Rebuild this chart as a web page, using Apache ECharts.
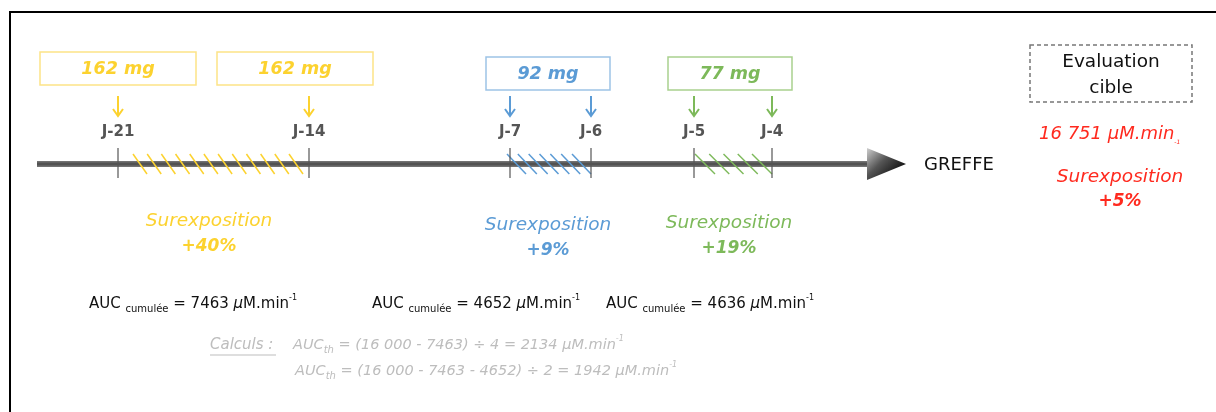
<!DOCTYPE html>
<html>
<head>
<meta charset="utf-8">
<script src="https://cdn.jsdelivr.net/npm/echarts@6/dist/echarts.min.js"></script>
<style>
  html, body { margin: 0; padding: 0; background: #fff; }
  #main { width: 1216px; height: 412px; }
</style>
</head>
<body>
<div id="main"></div>
<script>
// données du schéma
var days = ['J-21', 'J-14', 'J-7', 'J-6', 'J-5', 'J-4'];
// position des jours sur la frise (frise non proportionnelle)
var dayPos = [118, 309, 510, 591, 694, 772];
var doseLabels = ['162 mg', '162 mg', '92 mg', '77 mg'];
var doseDays = [[0], [1], [2, 3], [4, 5]];
var periodDays = [[0, 1], [2, 3], [4, 5]];
var surexposition = ['+40%', '+9%', '+19%'];
var aucCumulee = [7463, 4652, 4636];
var aucCible = 16751;
var surexpositionCible = '+5%';
var aucObjectif = 16000;
var aucTh = [2134, 1942];
var nbPrises = [4, 2];

var FONT = '"DejaVu Sans", sans-serif';
var colors = ['#FCD22F', '#5B9BD5', '#7DB95A'];
var boxColors = ['#FDE387', '#9DC3E6', '#A9D18E'];
var red = '#FF2A1F';
var grey = '#BDBDBD';

function fmt(n) {
  var s = String(n);
  return n >= 10000 ? s.replace(/\B(?=(\d{3})+(?!\d))/g, ' ') : s;
}
function periodOf(i) { return Math.floor(i / 2); }

var myChart = echarts.init(document.getElementById('main'));

// réglages de mise en page (pas des données)
var hatchStyle = [
  { a: 15, b: -6, dx: 14, n: 12 },
  { a: -3, b: 0, dx: 19, n: 7 },
  { a: 1, b: 0, dx: 20, n: 5 }
];
var boxStyle = [
  { w: 156, off: 0, top: 52 },
  { w: 156, off: -14, top: 52 },
  { w: 124, off: -2.5, top: 57 },
  { w: 124, off: -3, top: 57 }
];
var surexpStyle = [
  { off: -4.5, y: 221 },
  { off: -2.5, y: 225 },
  { off: -4, y: 223 }
];

function txt(x, y, text, o) {
  o = o || {};
  return {
    type: 'text', x: x, y: y, silent: true,
    style: {
      text: text,
      fill: o.color || '#111',
      font: (o.style || 'normal') + ' ' + (o.weight || 'normal') + ' ' + (o.size || 15) + 'px ' + FONT,
      align: o.align || 'center', textAlign: o.align || 'center',
      verticalAlign: 'middle', textVerticalAlign: 'middle',
      rich: o.rich
    }
  };
}

function richSet(color, size, italic) {
  var st = italic ? 'italic' : 'normal';
  return {
    m: { fontSize: size, fontFamily: FONT, fontStyle: st, fill: color, lineHeight: 20 },
    mu: { fontSize: size, fontFamily: FONT, fontStyle: 'italic', fill: color, lineHeight: 20 },
    s: { fontSize: 10, fontFamily: FONT, fontStyle: st, fill: color, verticalAlign: 'bottom', lineHeight: 12 },
    sup: { fontSize: 8, fontFamily: FONT, fontStyle: st, fill: color, verticalAlign: 'top', lineHeight: 11 }
  };
}
var aucRichStyle = richSet('#111', 15, false);
var calcRichStyle = richSet(grey, 14.5, true);
var redRich = {
  m: { fontSize: 18, fontFamily: FONT, fontStyle: 'italic', fill: red, lineHeight: 22 },
  sup: { fontSize: 6, fontFamily: FONT, fontStyle: 'italic', fill: red, verticalAlign: 'bottom', lineHeight: 13 }
};

function aucRich(v) {
  return '{m|AUC }{s|cumulée}{m| = ' + v + ' }{mu|μ}{m|M.min}{sup|-1}';
}
function calcRich(parts, n, res) {
  return '{m|AUC}{s|th}{m| = (' + parts.join(' - ') + ') ÷ ' + n + ' = ' + res + ' }{mu|μ}{m|M.min}{sup|-1}';
}

var aucX = [89, 372, 606];
var graphics = [
  { type: 'polyline', silent: true, shape: { points: [[10, 412], [10, 12], [1216, 12]] },
    style: { stroke: '#000', lineWidth: 2, fill: null } },
  { type: 'rect', silent: true, shape: { x: 37, y: 161, width: 832, height: 6 },
    style: { fill: new echarts.graphic.LinearGradient(0, 0, 0, 1, [
      { offset: 0, color: '#7a7a7a' }, { offset: 0.5, color: '#4a4a4a' }, { offset: 1, color: '#7a7a7a' }]) } },
  { type: 'polygon', silent: true, shape: { points: [[867, 148], [906, 164], [867, 180]] },
    style: { fill: new echarts.graphic.LinearGradient(0, 0, 0.8, 1, [
      { offset: 0, color: '#cfcfcf' }, { offset: 0.45, color: '#555' }, { offset: 1, color: '#000' }]) } },
  txt(924, 165, 'GREFFE', { align: 'left', size: 18 }),
  { type: 'rect', silent: true, shape: { x: 1030, y: 45, width: 162, height: 57 },
    style: { fill: null, stroke: '#777', lineWidth: 1.5, lineDash: [4, 3] } },
  txt(1111, 62, 'Evaluation', { size: 18.5 }),
  txt(1111, 88, 'cible', { size: 18.5 }),
  txt(1039, 134, '{m|' + fmt(aucCible) + ' μM.min}{sup|-1}', { align: 'left', rich: redRich }),
  txt(1120, 177, 'Surexposition', { color: red, style: 'italic', size: 18.5 }),
  txt(1120, 202, surexpositionCible, { color: red, style: 'italic', weight: 'bold', size: 17 }),
  txt(210, 345, 'Calculs :', { align: 'left', color: grey, style: 'italic', size: 15 }),
  { type: 'line', silent: true, shape: { x1: 210, y1: 355, x2: 276, y2: 355 },
    style: { stroke: grey, lineWidth: 1 } },
  txt(293, 345, calcRich([fmt(aucObjectif), aucCumulee[0]], nbPrises[0], aucTh[0]),
    { align: 'left', rich: calcRichStyle }),
  txt(295, 371, calcRich([fmt(aucObjectif), aucCumulee[0], aucCumulee[1]], nbPrises[1], aucTh[1]),
    { align: 'left', rich: calcRichStyle })
];
aucCumulee.forEach(function (v, i) {
  graphics.push(txt(aucX[i], 304, aucRich(v), { align: 'left', rich: aucRichStyle }));
});

var option = {
  animation: false,
  grid: { left: 0, right: 0, top: 0, bottom: 0 },
  xAxis: { type: 'value', min: 0, max: 1216, show: false },
  yAxis: { type: 'value', min: 0, max: 412, inverse: true, show: false },
  graphic: graphics,
  series: [
    {
      // hachures des périodes
      type: 'custom', silent: true, z: 3,
      data: periodDays.map(function (p, i) { return [dayPos[p[0]], dayPos[p[1]], i]; }),
      renderItem: function (params, api) {
        var i = api.value(2), h = hatchStyle[i];
        var xa = api.coord([api.value(0) + h.a, 0])[0], xb = api.coord([api.value(1) + h.b, 0])[0];
        var step = (xb - xa - h.dx) / (h.n - 1), kids = [];
        for (var k = 0; k < h.n; k++) {
          var x = xa + k * step;
          kids.push({ type: 'line', shape: { x1: x, y1: 154, x2: x + h.dx, y2: 174 },
            style: { stroke: colors[i], lineWidth: 1.5 } });
        }
        return { type: 'group', children: kids };
      }
    },
    {
      // jours : graduation, étiquette, flèche
      type: 'custom', silent: true, z: 4,
      data: days.map(function (d, i) { return [dayPos[i], i]; }),
      renderItem: function (params, api) {
        var i = api.value(1), x = api.coord([api.value(0), 0])[0], c = colors[periodOf(i)];
        return { type: 'group', children: [
          { type: 'line', shape: { x1: x, y1: 148, x2: x, y2: 178 }, style: { stroke: '#555', lineWidth: 1.2 } },
          { type: 'line', shape: { x1: x, y1: 96, x2: x, y2: 116 }, style: { stroke: c, lineWidth: 2 } },
          { type: 'polyline', shape: { points: [[x - 5, 109], [x, 116], [x + 5, 109]] },
            style: { stroke: c, lineWidth: 2, fill: null } },
          txt(x, 132, days[i], { color: '#555', weight: 'bold', size: 15 })
        ] };
      }
    },
    {
      // doses
      type: 'custom', silent: true, z: 4,
      data: doseLabels.map(function (d, i) {
        var ds = doseDays[i], s = 0;
        ds.forEach(function (k) { s += dayPos[k]; });
        return [s / ds.length, i];
      }),
      renderItem: function (params, api) {
        var i = api.value(1), bs = boxStyle[i];
        var cx = api.coord([api.value(0) + bs.off, 0])[0];
        var p = periodOf(doseDays[i][0]);
        return { type: 'group', children: [
          { type: 'rect', shape: { x: cx - bs.w / 2, y: bs.top, width: bs.w, height: 33 },
            style: { fill: null, stroke: boxColors[p], lineWidth: 1.5 } },
          txt(cx, bs.top + 17, doseLabels[i], { color: colors[p], style: 'italic', weight: 'bold', size: 17.5 })
        ] };
      }
    },
    {
      // surexposition par période
      type: 'custom', silent: true, z: 4,
      data: periodDays.map(function (p, i) { return [(dayPos[p[0]] + dayPos[p[1]]) / 2, i]; }),
      renderItem: function (params, api) {
        var i = api.value(1), ss = surexpStyle[i];
        var cx = api.coord([api.value(0) + ss.off, 0])[0];
        return { type: 'group', children: [
          txt(cx, ss.y, 'Surexposition', { color: colors[i], style: 'italic', size: 18.5 }),
          txt(cx, ss.y + 26, surexposition[i], { color: colors[i], style: 'italic', weight: 'bold', size: 17 })
        ] };
      }
    }
  ]
};
myChart.setOption(option);
</script>
</body>
</html>
